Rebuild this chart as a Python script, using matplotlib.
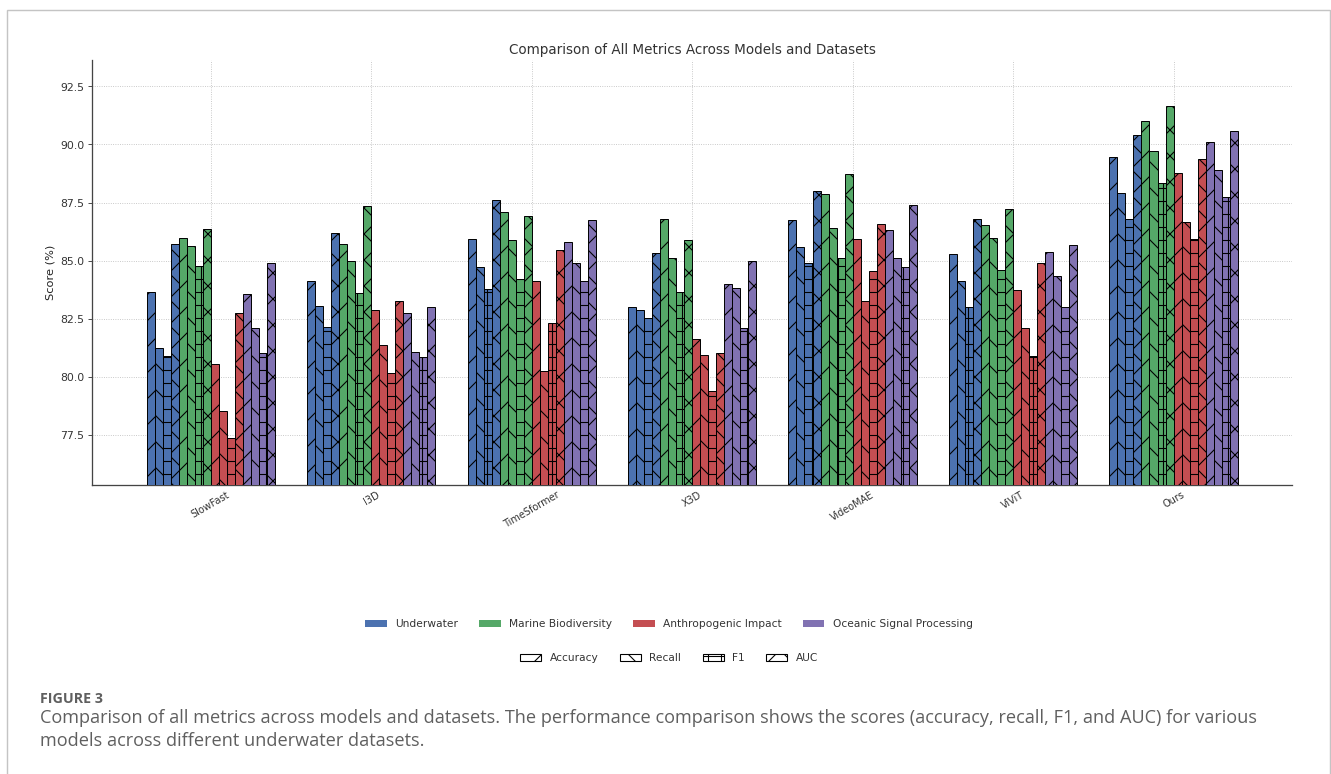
import matplotlib
matplotlib.use('Agg')
import matplotlib.pyplot as plt
from matplotlib.patches import Patch, Rectangle
import numpy as np

models = ['SlowFast', 'I3D', 'TimeSformer', 'X3D', 'VideoMAE', 'ViViT', 'Ours']
datasets = ['Underwater', 'Marine Biodiversity', 'Anthropogenic Impact', 'Oceanic Signal Processing']
metrics = ['Accuracy', 'Recall', 'F1', 'AUC']

# per model: [Accuracy, Recall, F1, AUC]
underwater = [
    [83.65, 81.24, 80.91, 85.72],
    [84.11, 83.06, 82.14, 86.19],
    [85.91, 84.74, 83.76, 87.59],
    [83.00, 82.89, 82.54, 85.32],
    [86.74, 85.59, 84.90, 87.99],
    [85.30, 84.14, 83.00, 86.81],
    [89.47, 87.89, 86.78, 90.42],
]
marine = [
    [85.99, 85.62, 84.77, 86.38],
    [85.73, 84.97, 83.61, 87.33],
    [87.08, 85.88, 84.21, 86.91],
    [86.78, 85.13, 83.65, 85.88],
    [87.87, 86.41, 85.09, 88.71],
    [86.52, 85.99, 84.58, 87.21],
    [91.03, 89.73, 88.32, 91.65],
]
anthropogenic = [
    [80.53, 78.51, 77.34, 82.73],
    [82.89, 81.36, 80.14, 83.28],
    [84.11, 80.24, 82.31, 85.45],
    [81.64, 80.92, 79.40, 81.02],
    [85.92, 83.25, 84.53, 86.59],
    [83.72, 82.10, 80.88, 84.91],
    [88.78, 86.64, 85.91, 89.37],
]
oceanic = [
    [83.58, 82.11, 81.03, 84.89],
    [82.74, 81.06, 80.85, 83.00],
    [85.80, 84.90, 84.14, 86.75],
    [84.01, 83.84, 82.11, 85.00],
    [86.32, 85.09, 84.74, 87.41],
    [85.37, 84.32, 83.00, 85.68],
    [90.09, 88.91, 87.73, 90.56],
]

colors = ['#4C72B0', '#55A868', '#C44E52', '#8172B2']
hatches = ['/', '\\', '+', 'x']

DPI = 78
fig = plt.figure(figsize=(1331.3 / DPI, 774.3 / DPI), dpi=DPI)
W, H = 1331, 774

# page frame
fig.patches.append(Rectangle((7 / W, -0.1), (1330 - 7) / W, 1.1 - 10 / H,
                             transform=fig.transFigure, fill=False,
                             edgecolor='#c4c4c4', linewidth=1.3))

ax = fig.add_axes([92 / W, 1 - 485 / H, 1200 / W, 425 / H])

all_data = [underwater, marine, anthropogenic, oceanic]
x = np.arange(len(models))
bw = 0.05
for d, data in enumerate(all_data):
    arr = np.array(data)
    for m in range(len(metrics)):
        k = d * len(metrics) + m
        off = -0.4 + (k + 0.5) * bw
        ax.bar(x + off, arr[:, m], width=bw, color=colors[d], edgecolor='black',
               linewidth=0.9, hatch=hatches[m], zorder=3)

vals = np.array(all_data)
ax.set_ylim(vals.min() - 2, vals.max() + 2)
ax.set_xticks(x)
ax.set_xticklabels(models, rotation=30, fontsize=9, color='#333333')
ax.tick_params(axis='y', labelsize=10, colors='#333333', length=3.5, width=0.8)
ax.tick_params(axis='x', length=0, pad=4, colors='#333333')
ax.set_ylabel('Score (%)', fontsize=10.5, color='#222222', labelpad=4)
ax.set_title('Comparison of All Metrics Across Models and Datasets', fontsize=12.5,
             color='#333333', pad=6)
ax.grid(True, linestyle=':', color='#bdbdbd', linewidth=0.8)
ax.set_axisbelow(True)
for s in ['top', 'right']:
    ax.spines[s].set_visible(False)
for s in ['left', 'bottom']:
    ax.spines[s].set_color('#444444')
    ax.spines[s].set_linewidth(1.2)

ds_handles = [Patch(facecolor=colors[i], label=datasets[i]) for i in range(len(datasets))]
mt_handles = [Patch(facecolor='white', edgecolor='black', hatch=hatches[i], label=metrics[i])
              for i in range(len(metrics))]
leg1 = fig.legend(handles=ds_handles, loc='center', bbox_to_anchor=(669 / W, 1 - 624 / H),
                  ncol=4, frameon=False, fontsize=9.8, columnspacing=2.0)
for t in leg1.get_texts():
    t.set_color('#333333')
leg2 = fig.legend(handles=mt_handles, loc='center', bbox_to_anchor=(669 / W, 1 - 658 / H),
                  ncol=4, frameon=False, fontsize=9.8, columnspacing=2.0)
for t in leg2.get_texts():
    t.set_color('#333333')

cap_color = '#5f5f5f'
fig.text(40 / W, 1 - 699 / H, 'FIGURE 3', fontsize=13.2, fontweight='bold',
         family='Open Sans', color=cap_color, va='center', ha='left')
fig.text(40 / W, 1 - 718 / H,
         'Comparison of all metrics across models and datasets. The performance comparison shows the scores (accuracy, recall, F1, and AUC) for various',
         fontsize=16.7, family='Open Sans', color=cap_color, va='center', ha='left')
fig.text(40 / W, 1 - 741 / H, 'models across different underwater datasets.',
         fontsize=16.7, family='Open Sans', color=cap_color, va='center', ha='left')

fig.savefig('out.png', dpi=DPI, facecolor='white')
